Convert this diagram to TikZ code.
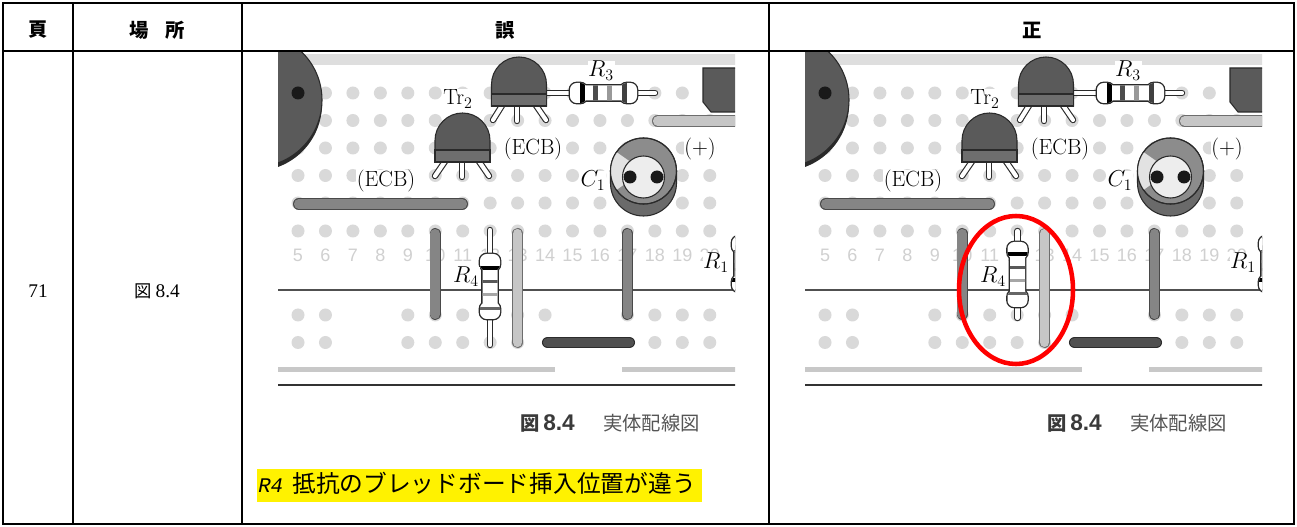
\documentclass[tikz,border=0pt]{standalone}
\usepackage{fontspec}
\newfontfamily\cjk{Noto Sans CJK JP}
\newfontfamily\tnr{Liberation Serif}
\newfontfamily\lsans{Liberation Sans}
\newfontfamily\lmono{Liberation Mono}
\definecolor{dotc}{HTML}{D9D9D9}
\definecolor{numc}{HTML}{D0D0D0}
\definecolor{bandc}{HTML}{DEDEDE}
\definecolor{bodyc}{HTML}{5A5A5A}
\definecolor{facec}{HTML}{6E6E6E}
\definecolor{edgec}{HTML}{2A2A2A}
\definecolor{midbar}{HTML}{858585}
\definecolor{lightbar}{HTML}{C6C6C6}
\definecolor{darkbar}{HTML}{505050}
\definecolor{capc}{HTML}{8C8C8C}
\definecolor{capside}{HTML}{6A6A6A}
\definecolor{capin}{HTML}{EDEDED}
\definecolor{capwedge}{HTML}{E2E2E2}
\definecolor{mainc}{HTML}{505050}
\definecolor{lightline}{HTML}{C8C8C8}
\definecolor{darkline}{HTML}{333333}
\definecolor{captxt}{HTML}{3A3A3A}
\definecolor{capgray}{HTML}{555555}
\tikzset{
  legO/.style={draw=edgec,line width=4.8pt,line cap=round},
  legI/.style={draw=white,line width=3.1pt,line cap=round},
  lab/.style={font=\fontsize{16.5}{19}\selectfont, fill=white, inner sep=0.5pt, anchor=base},
  numlab/.style={font=\lsans\fontsize{13.5}{15}\selectfont, text=numc, inner sep=0, anchor=base},
  hdr/.style={font=\cjk\bfseries\fontsize{14.5}{16}\selectfont, inner sep=0}
}
\newcommand\myleg[2]{\draw[legO] #1 -- #2; \draw[legI] #1 -- #2;}
\newcommand\mybar[3]{\draw[line width=8.6pt,line cap=round,draw=#3!55!black] #1 -- #2;
  \draw[line width=7.2pt,line cap=round,draw=#3] #1 -- #2;}
\newcommand\mytr[3]{%
  \draw[fill=bodyc, draw=edgec, line width=0.8pt] (#1-27.5,#3) -- (#1-27.5,#2+27.5)
     arc[start angle=180,end angle=360,radius=27.5] -- (#1+27.5,#3) -- cycle;
  \draw[fill=facec, draw=edgec, line width=0.8pt] (#1-27.5,#3-12) rectangle (#1+27.5,#3);}
\newcommand\vres[7]{%
  \draw[edgec, fill=edgec, line width=2pt, rounded corners=5pt]
    (#1-10,#2) rectangle (#1+10,#2+17) (#1-10,#3-17) rectangle (#1+10,#3)
    (#1-7.5,#2+8) rectangle (#1+7.5,#3-8);
  \begin{scope}
  \clip[rounded corners=5pt] (#1-10,#2) rectangle (#1+10,#2+17) (#1-10,#3-17) rectangle (#1+10,#3)
    (#1-7.5,#2+8) rectangle (#1+7.5,#3-8);
  \fill[white] (#1-12,#2-2) rectangle (#1+12,#3+2);
  \fill[black] (#1-12,#4) rectangle (#1+12,#4+3.8);
  \fill[black!65] (#1-12,#5) rectangle (#1+12,#5+3.5);
  \fill[black!35] (#1-12,#6) rectangle (#1+12,#6+3.5);
  \fill[black!60] (#1-12,#7) rectangle (#1+12,#7+3.5);
  \end{scope}}
\newcommand\hres[7]{%
  \draw[edgec, fill=edgec, line width=2pt, rounded corners=5pt]
    (#2,#1-10) rectangle (#2+17,#1+10) (#3-17,#1-10) rectangle (#3,#1+10)
    (#2+8,#1-7.5) rectangle (#3-8,#1+7.5);
  \begin{scope}
  \clip[rounded corners=5pt] (#2,#1-10) rectangle (#2+17,#1+10) (#3-17,#1-10) rectangle (#3,#1+10)
    (#2+8,#1-7.5) rectangle (#3-8,#1+7.5);
  \fill[white] (#2-2,#1-12) rectangle (#3+2,#1+12);
  \fill[black] (#4,#1-12) rectangle (#4+5,#1+12);
  \fill[black!70] (#5,#1-12) rectangle (#5+5,#1+12);
  \fill[black!40] (#6,#1-12) rectangle (#6+5,#1+12);
  \fill[black!75] (#7,#1-12) rectangle (#7+5,#1+12);
  \end{scope}}
\newcommand\myboard[2]{%
\begin{scope}[shift={(#1,0)}]
\begin{scope}
\clip (278,52) rectangle (735,390);
\fill[bandc] (270,54) rectangle (745,65);
\foreach \yy in {93,120.5,148,175.5,203,231}{\foreach \n in {5,...,20}{\fill[dotc] ({298+(\n-5)*27.45},\yy) circle[radius=6.5];}}
\foreach \n in {5,6,9,10,11,12,13,14,17,18,19,20}{\fill[dotc] ({298+(\n-5)*27.45},315) circle[radius=6.5];}
\foreach \n in {5,6,9,10,11,12,13,18,19,20}{\fill[dotc] ({298+(\n-5)*27.45},342.5) circle[radius=6.5];}
\foreach \n in {5,...,20}{\node[numlab] (num\n b#2) at ({298+(\n-5)*27.45},262) {\n};}
\draw[line width=1.9pt, draw=mainc] (270,290) -- (745,290);
\draw[line width=3.75pt, draw=lightline] (270,370) -- (555,370) (622,370) -- (745,370);
\draw[line width=1.9pt, draw=darkline] (270,385) -- (745,385);
% big round part
\fill[edgec] (255,104) circle[radius=67];
\draw[fill=bodyc, draw=edgec, line width=0.8pt] (255,100) circle[radius=67];
\fill[black!90] (298,93) circle[radius=6.5];
% bars
\mybar{(298.7,204)}{(462.3,204)}{midbar}
\mybar{(657.7,121)}{(750,121)}{lightbar}
\mybar{(435.25,233.7)}{(435.25,314.3)}{midbar}
\mybar{(517.6,233.7)}{(517.6,342.3)}{lightbar}
\mybar{(627.4,233.7)}{(627.4,314.3)}{midbar}
\mybar{(547.7,342.5)}{(629.3,342.5)}{darkbar}
% dark box top right
\draw[fill=bodyc, draw=edgec, line width=0.8pt] (703,68) -- (745,68) -- (745,112) -- (711,112) -- (703,102) -- cycle;
% leads and legs
\myleg{(530,93)}{(655,93)}
\myleg{(503,104)}{(493,120)}
\myleg{(517,104)}{(517,121)}
\myleg{(535,104)}{(546,120)}
\myleg{(446,160)}{(435,176)}
\myleg{(462,160)}{(462,177)}
\myleg{(478,160)}{(489,176)}
% transistors
\mytr{519}{57}{106}
\mytr{462.5}{113}{162}
% R3
\hres{93}{570}{637}{580}{593}{607}{622}
% C1
\draw[fill=capside, draw=edgec, line width=0.8pt] (610.5,171) -- (610.5,183)
   arc[start angle=180,end angle=0,radius=33] -- (676.5,171) -- cycle;
\draw[fill=capc, draw=edgec, line width=0.8pt] (643.5,171) circle[radius=33];
\fill[capwedge] (643.5,171) -- ++(145:33) arc[start angle=145,end angle=215,radius=33] -- cycle;
\draw[edgec, line width=0.8pt] (643.5,171) circle[radius=33];
\draw[fill=capin, draw=edgec, line width=0.8pt] (643.5,177) circle[radius=21];
\fill[black!90] (630,177) circle[radius=6.5];
\fill[black!90] (657,177) circle[radius=6.5];
% R1 at right edge
\myleg{(742,226)}{(742,300)}
\vres{742}{236}{292}{278}{250}{260}{268}
% R4
\ifnum#2=0
  \myleg{(490,230)}{(490,345)}
  \vres{490}{254}{319}{266}{280}{293}{307}
\else
  \myleg{(490.5,231)}{(490.5,318)}
  \vres{490.5}{242}{307}{252}{266}{279}{292}
\fi
% labels
\node[lab] (tr2b#2) at (458,105) {Tr$_2$};
\node[lab] (ecb1b#2) at (386,187) {(ECB)};
\node[lab] (ecb2b#2) at (533,155) {(ECB)};
\node[lab] (r3b#2) at (601,77) {$R_3$};
\node[lab] (c1b#2) at (593,187) {$C_1$};
\node[lab] (plusb#2) at (700,155) {(+)};
\node[lab] (r4b#2) at (466,283) {$R_4$};
\node[lab] (r1b#2) at (716,269) {$R_1$};
\end{scope}
\ifnum#2=1
  \draw[red, line width=3.4pt] (489,290) ellipse[x radius=57, y radius=74];
\fi
% caption
\node[anchor=base, inner sep=0, text=captxt] (capz#2) at (530,431) {\cjk\bfseries\fontsize{14.5}{16}\selectfont 図};
\node[anchor=base west, inner sep=0, text=captxt] (capn#2) at (543,431) {\lsans\bfseries\fontsize{17}{19}\selectfont 8.4};
\node[anchor=base west, inner sep=0, text=capgray] (capt#2) at (603,431) {\cjk\fontsize{14.5}{17}\selectfont 実体配線図};
\end{scope}}
\begin{document}
\begin{tikzpicture}[x=0.75pt,y=-0.75pt]
\useasboundingbox (0,0) rectangle (1297,527);
\fill[white] (0,0) rectangle (1297,527);
\myboard{0}{0}
\myboard{527}{1}
% note
\fill[yellow] (257,469) rectangle (702,502);
\node[anchor=base west, inner sep=0] (noter4) at (258,493) {\lmono\itshape\fontsize{15.6}{18}\selectfont R4};
\node[anchor=base west, inner sep=0] (notetxt) at (292,493) {\cjk\fontsize{17.8}{20}\selectfont 抵抗のブレッドボード挿入位置が違う};
% table
\draw[black, line width=1.9pt] (3,3) rectangle (1294,524);
\draw[black, line width=1.5pt] (3,51) -- (1294,51);
\foreach \xx in {73,242,769} \draw[black,line width=1.5pt] (\xx,3) -- (\xx,524);
\node[hdr] (h1) at (38,30) {頁};
\node[hdr] (h2) at (157,30) {場\hspace{0.85em}所};
\node[hdr] (h3) at (505,30) {誤};
\node[hdr] (h4) at (1032,30) {正};
\node[anchor=base, inner sep=0] (p71) at (38,298) {\tnr\fontsize{14.5}{16}\selectfont 71};
\node[anchor=base, inner sep=0] (loc) at (157,298) {{\cjk\fontsize{13}{16}\selectfont 図}\hspace{0.3em}{\tnr\fontsize{14.5}{16}\selectfont 8.4}};
\end{tikzpicture}
\end{document}
